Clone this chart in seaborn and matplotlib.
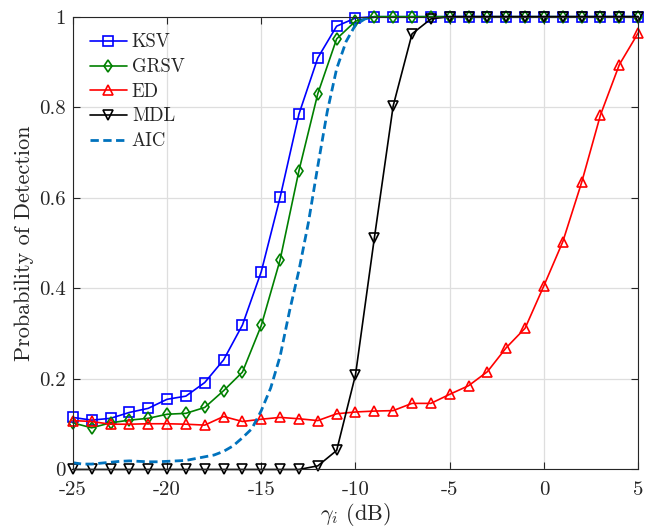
import numpy as np
import pandas as pd
import seaborn as sns
import matplotlib as mpl
mpl.use("Agg")
import matplotlib.pyplot as plt

# SNR grid (dB)
snr = list(range(-25, 6))

ksv = [0.115, 0.109, 0.113, 0.126, 0.135, 0.155, 0.162, 0.192, 0.242, 0.319,
       0.437, 0.601, 0.785, 0.909, 0.979, 0.997, 1, 1, 1, 1, 1, 1, 1, 1, 1, 1,
       1, 1, 1, 1, 1]
grsv = [0.103, 0.092, 0.103, 0.109, 0.113, 0.122, 0.124, 0.137, 0.174, 0.215,
        0.318, 0.463, 0.660, 0.830, 0.951, 0.990, 1, 1, 1, 1, 1, 1, 1, 1, 1, 1,
        1, 1, 1, 1, 1]
ed = [0.108, 0.106, 0.100, 0.100, 0.101, 0.101, 0.100, 0.098, 0.117, 0.106,
      0.111, 0.115, 0.112, 0.108, 0.123, 0.127, 0.129, 0.130, 0.146, 0.146,
      0.166, 0.185, 0.216, 0.269, 0.312, 0.406, 0.503, 0.634, 0.783, 0.894,
      0.964]
mdl = [0, 0, 0, 0, 0, 0, 0, 0, 0, 0, 0, 0, 0, 0.008, 0.042, 0.209, 0.511,
       0.803, 0.962, 0.995, 1, 1, 1, 1, 1, 1, 1, 1, 1, 1, 1]

# AIC curve on a finer grid
snr_aic = list(np.arange(-25, 5.5, 0.5))
aic = [0.015, 0.012, 0.012, 0.014, 0.016, 0.018, 0.019, 0.018, 0.017, 0.017,
       0.018, 0.019, 0.020, 0.024, 0.028, 0.032, 0.040, 0.052, 0.070, 0.090,
       0.130, 0.180, 0.250, 0.350, 0.440, 0.545, 0.670, 0.790, 0.885, 0.945,
       0.982, 0.995] + [1.0] * 29

sns.set_style("ticks")
plt.rcParams["font.family"] = "serif"
plt.rcParams["font.serif"] = ["cmr10"]
plt.rcParams["mathtext.fontset"] = "cm"
plt.rcParams["axes.unicode_minus"] = False
plt.rcParams["axes.formatter.use_mathtext"] = False

fig = plt.figure(figsize=(6.62, 5.29), dpi=100)
ax = fig.add_axes([0.110, 0.1125, 0.854, 0.856])

common = dict(markerfacecolor="none", markersize=6.5, markeredgewidth=1.2,
              linewidth=1.2, clip_on=False, ax=ax)
sns.lineplot(x=snr, y=ksv, color="#0000ff", marker="s", markeredgecolor="#0000ff",
             label="KSV", **common)
sns.lineplot(x=snr, y=grsv, color="#008000", marker="d", markeredgecolor="#008000",
             label="GRSV", **common)
sns.lineplot(x=snr, y=ed, color="#ff0000", marker="^", markeredgecolor="#ff0000",
             label="ED", **common)
sns.lineplot(x=snr, y=mdl, color="#000000", marker="v", markeredgecolor="#000000",
             label="MDL", **common)
sns.lineplot(x=snr_aic, y=aic, color="#0072bd", linestyle=(0, (3, 1.6)),
             linewidth=2.0, label="AIC", ax=ax)

ax.set_xlim(-25, 5)
ax.set_ylim(0, 1)
ax.set_xticks([-25, -20, -15, -10, -5, 0, 5])
ax.set_yticks([0, 0.2, 0.4, 0.6, 0.8, 1])
ax.set_yticklabels(["0", "0.2", "0.4", "0.6", "0.8", "1"])
ax.grid(True, color="#dedede", linewidth=0.9)
ax.tick_params(direction="in", top=True, right=True, labelsize=15,
               length=5, width=0.8, color="#262626")
ax.tick_params(axis="x", pad=8)
ax.tick_params(axis="y", pad=5)
for s in ax.spines.values():
    s.set_color("#262626")
    s.set_linewidth(0.8)
ax.set_axisbelow(True)

ax.set_xlabel(r"$\gamma_i$ (dB)", fontsize=16, labelpad=2)
ax.set_ylabel("Probability of Detection", fontsize=16)

ax.legend(loc="upper left", frameon=False, fontsize=13.5, handlelength=2.0,
          handletextpad=0.25, labelspacing=0.36, borderaxespad=0.5)

fig.savefig("out.png", dpi=100)
